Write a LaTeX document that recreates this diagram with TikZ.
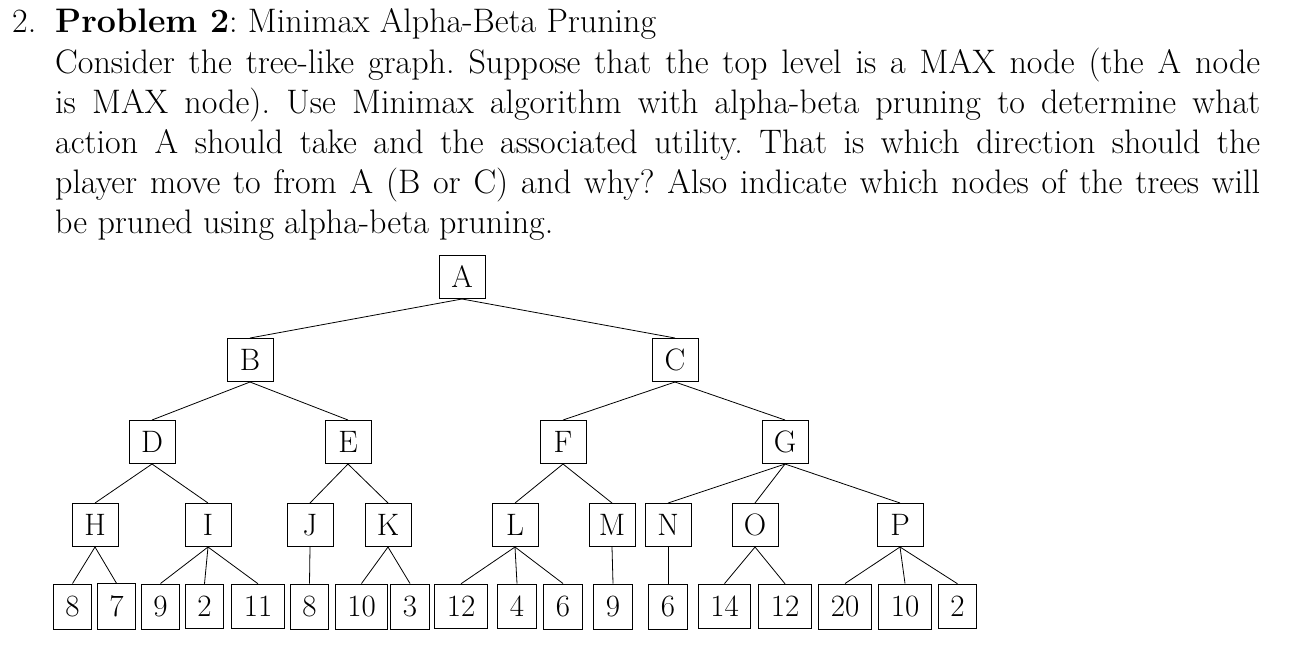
\documentclass[tikz,border=0pt]{standalone}
\begin{document}
\begin{tikzpicture}[x=1pt,y=-1pt,
  every node/.style={font=\fontsize{31}{38}\selectfont},
  txt/.style={anchor=base west,inner sep=0pt,font=\fontsize{34}{40}\selectfont\frenchspacing},
  tn/.style={draw,line width=1pt,minimum width=46pt,minimum height=43pt,inner sep=3pt},
  lf/.style={draw,line width=1pt,minimum width=37pt,minimum height=43pt,inner sep=12pt},
  ed/.style={line width=0.8pt}]
\useasboundingbox (0,0) rectangle (1297,667);
\node[txt] (n) at (12,32) {2.};
\node[txt] (l1) at (55,32) {\textbf{Problem 2}: Minimax Alpha-Beta Pruning};
\node[txt] (l2) at (55,73) {\makebox[1205pt][s]{Consider the tree-like graph. Suppose that the top level is a MAX node (the A node}};
\node[txt] (l3) at (55,113) {\makebox[1205pt][s]{is MAX node). Use Minimax algorithm with alpha-beta pruning to determine what}};
\node[txt] (l4) at (55,153) {\makebox[1205pt][s]{action A should take and the associated utility. That is which direction should the}};
\node[txt] (l5) at (55,193) {\makebox[1205pt][s]{player move to from A (B or C) and why? Also indicate which nodes of the trees will}};
\node[txt] (l6) at (55,233) {be pruned using alpha-beta pruning.};
\node[tn] (A) at (462,277) {A};
\node[tn] (B) at (250,360) {B};
\node[tn] (C) at (675,360) {C};
\node[tn] (D) at (152,442) {D};
\node[tn] (E) at (348,442) {E};
\node[tn] (F) at (563,442) {F};
\node[tn] (G) at (785,442) {G};
\node[tn] (H) at (95,525) {H};
\node[tn] (I) at (208,525) {I};
\node[tn] (J) at (310,525) {J};
\node[tn] (K) at (388,525) {K};
\node[tn] (L) at (515,525) {L};
\node[tn] (M) at (612,525) {M};
\node[tn] (N) at (668,525) {N};
\node[tn] (O) at (755,525) {O};
\node[tn] (P) at (900,525) {P};
\foreach \n/\x/\v in {a/72.5/8,b/116.5/7,c/160.5/9,d/204.5/2,e/258/11,f/309.5/8,g/361.5/10,h/410/3,i/461/12,j/517/4,k/563/6,l/613/9,m/668/6,o/724.5/14,p/785/12,q/845/20,r/905/10,s/957.5/2}
  \node[lf] (\n) at (\x,606.5) {\v};
\foreach \p/\c in {A/B,A/C,B/D,B/E,C/F,C/G,D/H,D/I,E/J,E/K,F/L,F/M,G/N,G/O,G/P,
  H/a,H/b,I/c,I/d,I/e,J/f,K/g,K/h,L/i,L/j,L/k,M/l,N/m,O/o,O/p,P/q,P/r,P/s}
  \draw[ed] (\p.south) -- (\c.north);
\end{tikzpicture}
\end{document}
